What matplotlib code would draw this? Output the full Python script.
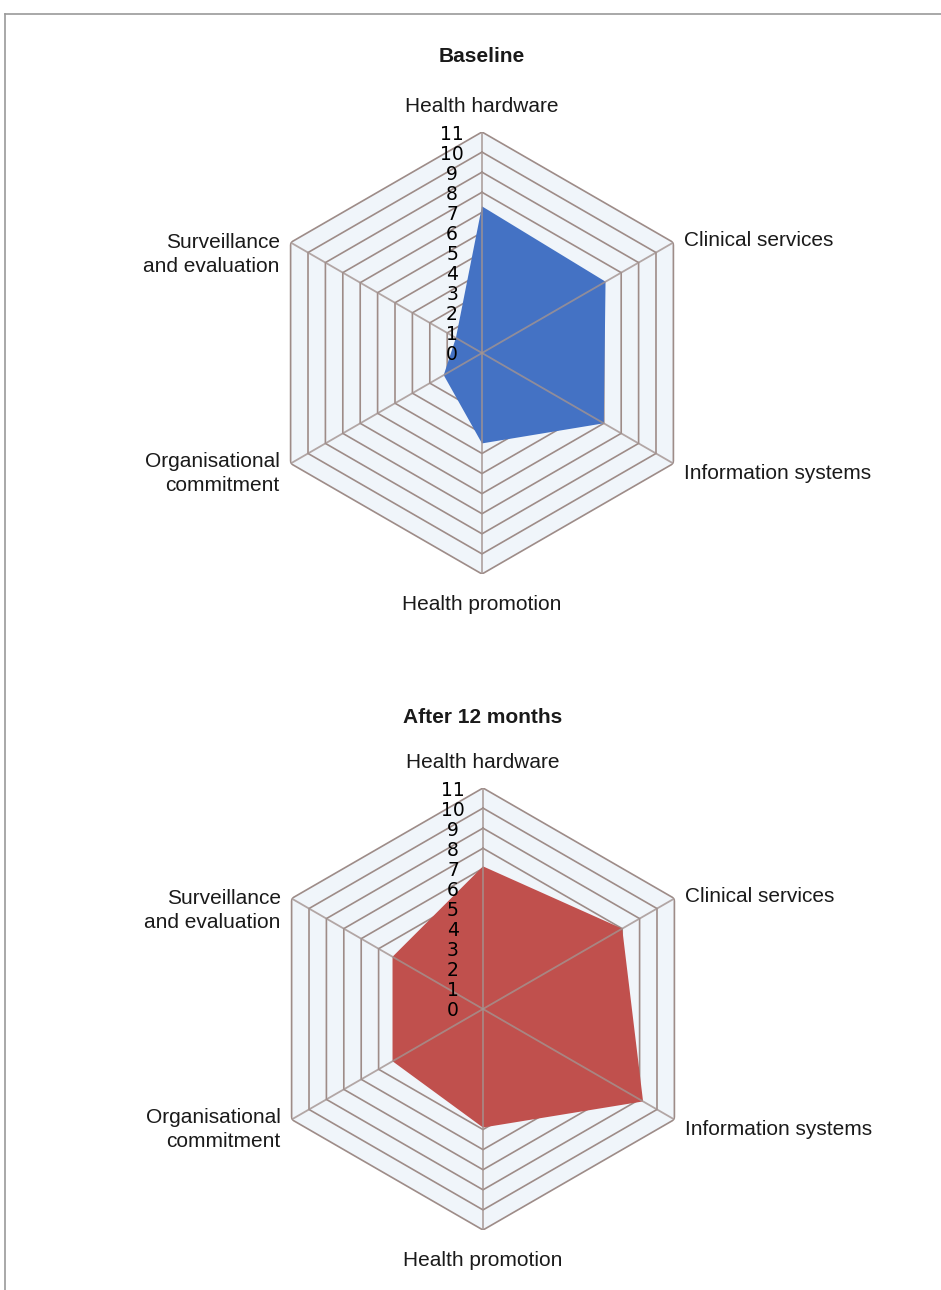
import numpy as np
import matplotlib
matplotlib.use("Agg")
import matplotlib.pyplot as plt
from matplotlib.lines import Line2D

categories = ['Health hardware', 'Clinical services', 'Information systems',
              'Health promotion', 'Organisational\ncommitment', 'Surveillance\nand evaluation']
baseline = [7.3, 7.1, 7.0, 4.5, 2.2, 1.5]
after_12 = [7.1, 8.0, 9.2, 5.9, 5.2, 5.2]
rings = list(range(0, 12))
titles = ['Baseline', 'After 12 months']
fill_colors = ['#4472C4', '#C0504D']

plt.rcParams['font.family'] = ['Liberation Sans', 'DejaVu Sans']

W, H = 941, 1290
fig = plt.figure(figsize=(W / 100, H / 100), dpi=100)

# label offsets (pixels) and alignment per category
label_fmt = [
    dict(off=(0, 25), ha='center', va='center'),
    dict(off=(11, 2), ha='left', va='center'),
    dict(off=(11, -10), ha='left', va='center'),
    dict(off=(0, -30), ha='center', va='center'),
    dict(off=(-11, -10), ha='right', va='center'),
    dict(off=(-11, -12), ha='right', va='center'),
]

def radar(rect, values, color, title, title_y):
    ax = fig.add_axes(rect, projection='polar')
    ax.set_theta_offset(np.pi / 2)
    ax.set_theta_direction(-1)
    n = len(categories)
    ang = np.linspace(0, 2 * np.pi, n, endpoint=False)
    angc = np.concatenate([ang, ang[:1]])
    rmax = rings[-1]
    ax.set_ylim(0, rmax)
    ax.grid(False)
    ax.set_xticks([])
    ax.set_yticks([])
    ax.spines['polar'].set_visible(False)
    ax.patch.set_alpha(0)
    # background
    ax.fill(angc, [rmax] * (n + 1), color='#f0f5fa', zorder=0)
    for r in rings[1:]:
        ax.plot(angc, [r] * (n + 1), color='#9e8c88', lw=1.2, zorder=1)
    v = list(values) + [values[0]]
    ax.fill(angc, v, color=color, zorder=2, lw=0)
    for a in ang:
        ax.plot([a, a], [0, rmax], color='#a39390', lw=1.3, alpha=0.8, zorder=3)
    for r in rings:
        ax.annotate(str(r), xy=(0, r), xytext=(-30, -2), textcoords='offset pixels',
                    ha='center', va='center', fontsize=13.5, family='DejaVu Sans',
                    color='#000000', zorder=5, annotation_clip=False)
    for a, lab, f in zip(ang, categories, label_fmt):
        ax.annotate(lab, xy=(a, rmax), xytext=f['off'], textcoords='offset pixels',
                    ha=f['ha'], va=f['va'], fontsize=15, color='#1a1a1a',
                    linespacing=1.3, annotation_clip=False)
    fig.text(0.5 * (rect[0] * 2 + rect[2]), title_y, title, ha='center', va='center',
             fontsize=15, fontweight='bold', color='#1a1a1a')
    return ax

R = 221
def rect_for(cx, cy):
    return [(cx - R) / W, 1 - (cy + R) / H, 2 * R / W, 2 * R / H]

radar(rect_for(482, 353), baseline, fill_colors[0], titles[0], 1 - 57 / H)
radar(rect_for(483, 1009), after_12, fill_colors[1], titles[1], 1 - 717 / H)

# frame lines
fig.add_artist(Line2D([5 / W, 1], [1 - 14 / H, 1 - 14 / H], transform=fig.transFigure,
                      color='#9a9a9a', lw=1.2))
fig.add_artist(Line2D([5 / W, 5 / W], [0, 1 - 14 / H], transform=fig.transFigure,
                      color='#9a9a9a', lw=1.2))

fig.savefig('out.png', dpi=100, facecolor='white')
